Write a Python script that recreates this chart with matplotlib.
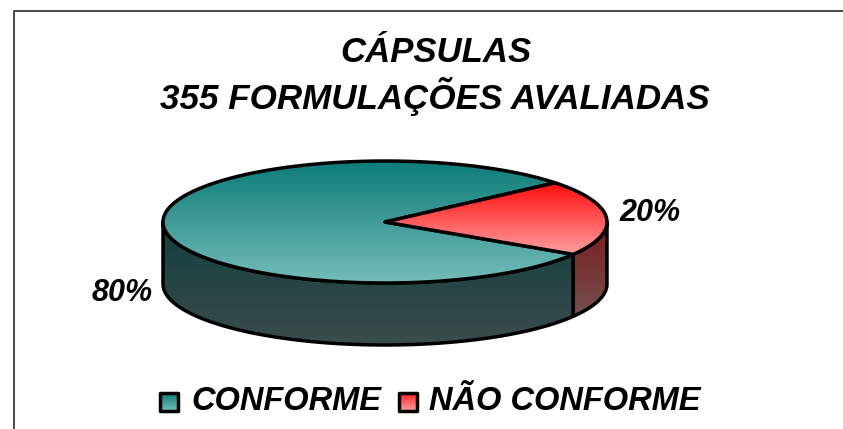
import numpy as np
import matplotlib
matplotlib.use("Agg")
import matplotlib.pyplot as plt
from matplotlib.patches import Polygon
from matplotlib.colors import LinearSegmentedColormap

categories = ["CONFORME", "NÃO CONFORME"]
values = [80, 20]
pct_labels = ["80%", "20%"]
title_lines = ["CÁPSULAS", "355 FORMULAÇÕES AVALIADAS"]

W, H = 843, 429
CX, CY, RX, RY, DEPTH = 385, 222, 222, 61, 62
START_DEG = 40  # the red slice ends here, running clockwise from it
LW = 2.5
FONT = "Liberation Sans"

fig = plt.figure(figsize=(W / 100, H / 100), dpi=100)
ax = fig.add_axes([0, 0, 1, 1])
ax.set_xlim(0, W)
ax.set_ylim(H, 0)
ax.axis("off")


def arc(a0, a1, dy=0, n=200):
    t = np.radians(np.linspace(a0, a1, n))
    return np.column_stack([CX + RX * np.cos(t), CY - RY * np.sin(t) + dy])


def gradient_poly(pts, c0, c1, z, lw=LW):
    ys = pts[:, 1]
    xs = pts[:, 0]
    cmap = LinearSegmentedColormap.from_list("g", [c0, c1])
    im = ax.imshow(np.linspace(0, 1, 256).reshape(-1, 1), cmap=cmap, aspect="auto",
                   extent=(xs.min(), xs.max(), ys.max(), ys.min()), zorder=z,
                   interpolation="bilinear")
    poly = Polygon(pts, closed=True, transform=ax.transData, fc="none", ec="none")
    ax.add_patch(poly)
    im.set_clip_path(poly)
    ax.add_patch(Polygon(pts, closed=True, fc="none", ec="black", lw=lw, zorder=z + 0.5,
                         joinstyle="round"))
    ax.set_xlim(0, W)
    ax.set_ylim(H, 0)


# slice angles derived from the values
sweep = [v / sum(values) * 360 for v in values]
red_a0, red_a1 = START_DEG - sweep[1], START_DEG   # NÃO CONFORME
teal_a0, teal_a1 = START_DEG, START_DEG + sweep[0]  # CONFORME

# walls
teal_wall = np.vstack([arc(180, 360 + red_a0), arc(360 + red_a0, 180, DEPTH)])
red_wall = np.vstack([arc(red_a0, 0), arc(0, red_a0, DEPTH)])
gradient_poly(teal_wall, "#123f3e", "#3b4c4c", 2)
gradient_poly(red_wall, "#7c1a1a", "#744f4f", 2)

# top faces
centre = np.array([[CX, CY]])
teal_top = np.vstack([centre, arc(teal_a0, teal_a1)])
red_top = np.vstack([centre, arc(red_a0, red_a1)])
gradient_poly(teal_top, "#0c7c79", "#75bcb8", 3)
gradient_poly(red_top, "#ff0a0a", "#ff9f9f", 4)

# frame
ax.plot([13.5, 13.5, W], [H, 10.5, 10.5], color="#3a3a3a", lw=1.3, zorder=1)

txt = dict(family=FONT, weight="bold", style="italic", color="black")
ax.text(436, 52, title_lines[0], fontsize=25, ha="center", va="center", **txt)
ax.text(435, 97, title_lines[1], fontsize=25.2, ha="center", va="center", **txt)
ax.text(122, 293, pct_labels[0], fontsize=22, ha="center", va="center", **txt)
ax.text(650, 213, pct_labels[1], fontsize=22, ha="center", va="center", **txt)

# legend
ax.text(191, 401, categories[0], fontsize=23.5, ha="left", va="center", **txt)
ax.text(429, 401, categories[1], fontsize=23.5, ha="left", va="center", **txt)
for x0, c0, c1 in [(160, "#0c7c79", "#75bcb8"), (399, "#ff2020", "#ff9f9f")]:
    s = 18
    gradient_poly(np.array([[x0, 393], [x0 + s, 393], [x0 + s, 411], [x0, 411]], float), c0, c1, 5)

fig.savefig("out.png", dpi=100, facecolor="white")
